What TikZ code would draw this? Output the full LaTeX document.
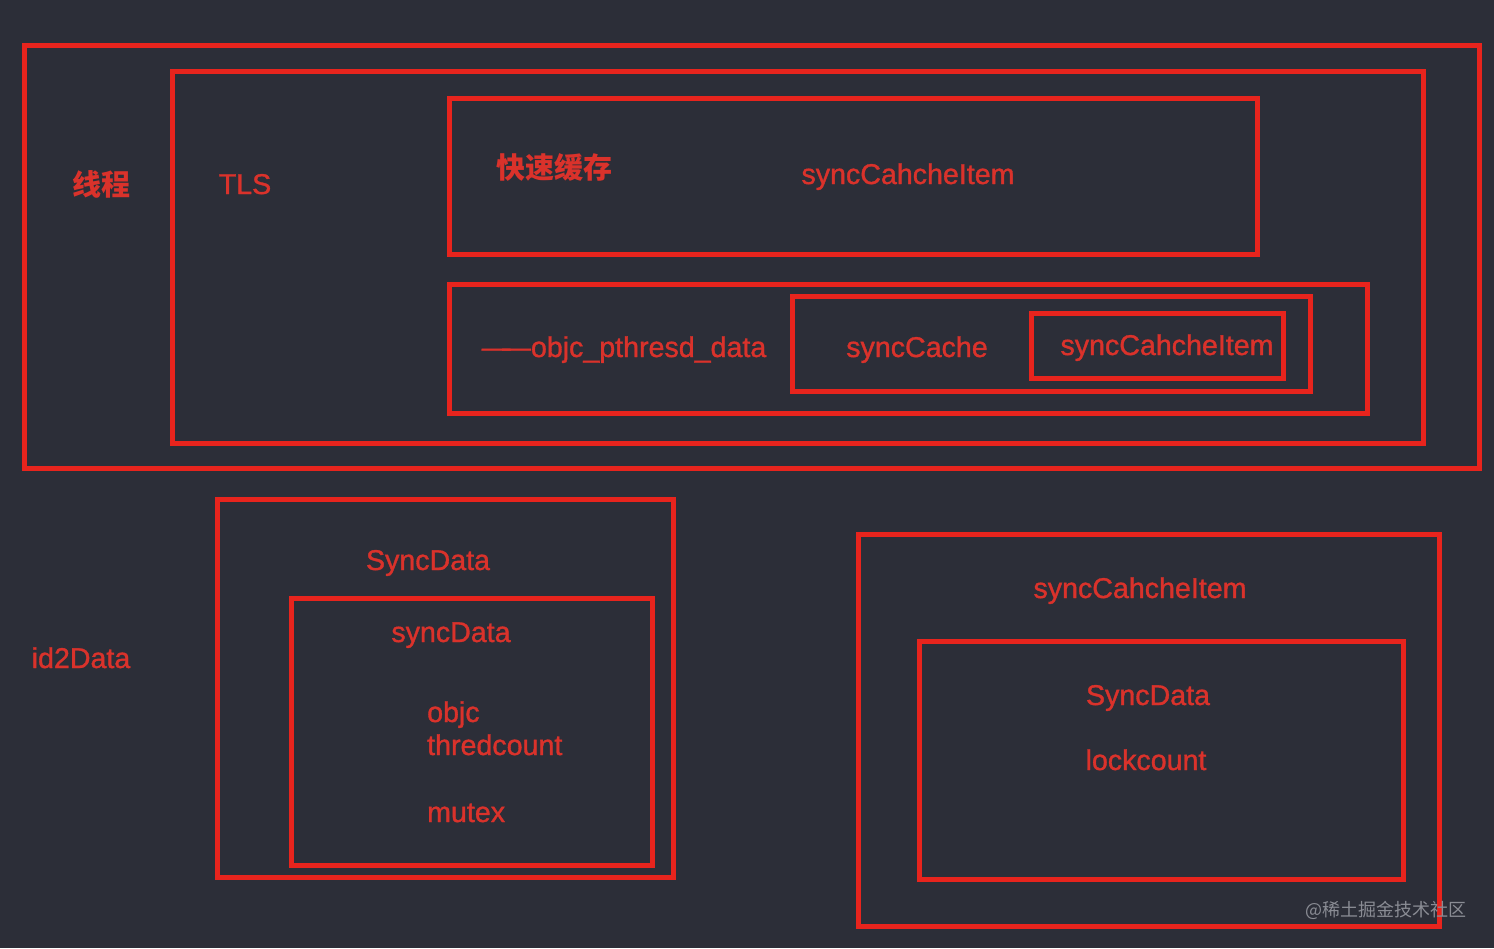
\documentclass[tikz,border=0pt]{standalone}
\usepackage{fontspec}
\setmainfont{Liberation Sans}[RawFeature={embolden=1.2}]
\newfontfamily\cjk{Noto Sans CJK SC}
\definecolor{bg}{HTML}{2C2E38}
\definecolor{boxred}{HTML}{E8241D}
\definecolor{txtred}{HTML}{DA322B}
\definecolor{wm}{HTML}{8A8C94}
\begin{document}
\begin{tikzpicture}[x=1pt,y=-1pt,
  frame/.style={draw=boxred,line width=5pt},
  lbl/.style={text=txtred,inner sep=0pt,anchor=base,font=\fontsize{28.6}{32}\selectfont},
  lbll/.style={lbl,anchor=base west},
  cjklbl/.style={text=txtred,inner sep=0pt,anchor=center,font=\cjk\bfseries\fontsize{29}{32}\selectfont}]
\useasboundingbox (0,0) rectangle (1494,948);
\fill[bg] (0,0) rectangle (1494,948);
% boxes
\draw[frame] (24,45) rectangle (1479,468);
\draw[frame] (172,71) rectangle (1423,443);
\draw[frame] (449,98) rectangle (1257,254);
\draw[frame] (449,284) rectangle (1367,413);
\draw[frame] (792,296) rectangle (1310,391);
\draw[frame] (1031,313) rectangle (1283,378);
\draw[frame] (217,499) rectangle (673,877);
\draw[frame] (291,598) rectangle (652,865);
\draw[frame] (858,534) rectangle (1439,926);
\draw[frame] (919,641) rectangle (1403,879);
% labels
\node[cjklbl] (thread) at (101,184) {线程};
\node[lbl] (tls) at (245,194) {TLS};
\node[cjklbl] (fast) at (554,167) {快速缓存};
\node[lbl] (item1) at (908,184) {syncCahcheItem};
\node[lbl] (ptd) at (624,357) {—\kern-8pt—objc\_pthresd\_data};
\node[lbl] (cache) at (917,357) {syncCache};
\node[lbl] (item2) at (1167,355) {syncCahcheItem};
\node[lbl] (id2) at (81,668) {id2Data};
\node[lbl] (sd1) at (428,570) {SyncData};
\node[lbl] (sd2) at (451,642) {syncData};
\node[lbll] (objc) at (427,722) {objc};
\node[lbll] (thc) at (427,755) {thredcount};
\node[lbll] (mutex) at (427,822) {mutex};
\node[lbl] (item3) at (1140,598) {syncCahcheItem};
\node[lbl] (sd3) at (1148,705) {SyncData};
\node[lbl] (lc) at (1146,770) {lockcount};
\node[text=wm,inner sep=0pt,anchor=center,font=\cjk\fontsize{18}{20}\selectfont] (wmark) at (1386,910) {@稀土掘金技术社区};
\end{tikzpicture}
\end{document}
